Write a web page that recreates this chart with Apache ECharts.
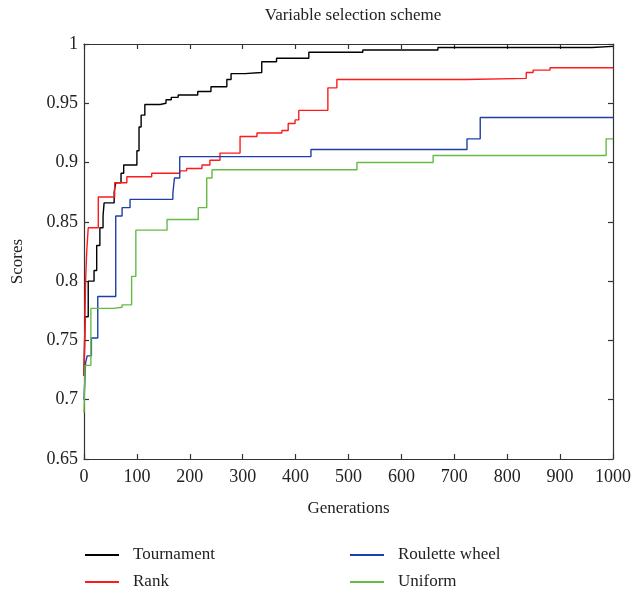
<!DOCTYPE html>
<html>
<head>
<meta charset="utf-8">
<script src="https://cdn.jsdelivr.net/npm/echarts@6/dist/echarts.min.js"></script>
<style>html,body{margin:0;padding:0;background:#fff;}#c{width:635px;height:596px;}</style>
</head>
<body>
<div id="c"></div>
<script>
var xTicks = [0, 100, 200, 300, 400, 500, 600, 700, 800, 900, 1000];
var yTicks = [0.65, 0.7, 0.75, 0.8, 0.85, 0.9, 0.95, 1];
var seriesNames = ['Tournament', 'Rank', 'Roulette wheel', 'Uniform'];

// [generation, score] step points (value holds until next point)
var tournament = [[0,0.72],[2,0.77],[8,0.80],[19,0.809],[24,0.83],[30,0.845],[36,0.855],[38,0.866],[57,0.875],[60,0.883],[70,0.891],[75,0.898],[100,0.91],[104,0.93],[108,0.94],[115,0.949],[144,0.950],[155,0.953],[165,0.955],[178,0.957],[215,0.960],[240,0.964],[270,0.970],[278,0.975],[304,0.976],[336,0.985],[364,0.988],[425,0.993],[527,0.995],[669,0.997],[960,0.998],[1000,0.998]];
var rank = [[0,0.72],[3,0.80],[5,0.824],[8,0.845],[27,0.871],[58,0.883],[81,0.888],[128,0.891],[181,0.893],[194,0.895],[223,0.898],[238,0.902],[257,0.908],[295,0.922],[327,0.925],[374,0.927],[386,0.933],[399,0.936],[406,0.944],[461,0.963],[478,0.970],[722,0.971],[836,0.976],[849,0.978],[881,0.980],[1000,0.980]];
var roulette = [[0,0.70],[3,0.731],[6,0.737],[14,0.752],[26,0.787],[60,0.855],[72,0.862],[87,0.869],[168,0.874],[171,0.887],[181,0.905],[429,0.911],[724,0.920],[749,0.938],[1000,0.938]];
var uniform = [[0,0.689],[2,0.729],[13,0.777],[56,0.778],[72,0.780],[90,0.804],[98,0.843],[157,0.852],[216,0.862],[232,0.887],[242,0.894],[516,0.900],[660,0.906],[987,0.920],[1000,0.920]];

var colors = ['#000000', '#ff1a1a', '#1f3fa8', '#66bb44'];
var font = '"Liberation Serif", "DejaVu Serif", serif';
var txt = '#222';

var chart = echarts.init(document.getElementById('c'), null, {renderer: 'canvas'});
function fmt(v) { return String(+v.toFixed(2)); }
function mk(name, data, color) {
  return {
    name: name, type: 'line', step: 'end', data: data, symbol: 'none',
    lineStyle: {color: color, width: 1.4}, itemStyle: {color: color},
    animation: false, xAxisIndex: 0, yAxisIndex: 0
  };
}
var axisCommon = {
  axisLine: {show: true, onZero: false, lineStyle: {color: '#333', width: 1.2}},
  axisTick: {show: true, inside: true, length: 5, lineStyle: {color: '#333', width: 1.2}},
  splitLine: {show: false}
};
var legendCommon = {
  orient: 'vertical', top: 541, height: 60, icon: 'rect',
  itemWidth: 34, itemHeight: 2, itemGap: 9,
  textStyle: {fontFamily: font, fontSize: 17, lineHeight: 18, color: txt, padding: [0, 0, 0, 9]}
};
chart.setOption({
  backgroundColor: '#fff',
  animation: false,
  title: {
    text: 'Variable selection scheme', left: 348, top: 2, textAlign: 'center',
    textStyle: {fontFamily: font, fontWeight: 'normal', fontSize: 17, color: txt}
  },
  grid: {left: 84, right: 22, top: 44, bottom: 137},
  xAxis: [
    Object.assign({
      type: 'value', min: 0, max: 1000, interval: 100, position: 'bottom',
      name: 'Generations', nameLocation: 'middle', nameGap: 41,
      nameTextStyle: {fontFamily: font, fontSize: 17, color: txt},
      axisLabel: {fontFamily: font, fontSize: 18, color: txt, margin: 9,
        formatter: function (v) { return String(v); }}
    }, axisCommon),
    Object.assign({
      type: 'value', min: 0, max: 1000, interval: 100, position: 'top',
      axisLabel: {show: false}
    }, axisCommon)
  ],
  yAxis: [
    Object.assign({
      type: 'value', min: 0.65, max: 1, interval: 0.05, position: 'left',
      name: 'Scores', nameLocation: 'middle', nameGap: 58, nameRotate: 90,
      nameTextStyle: {fontFamily: font, fontSize: 17, color: txt, padding: [0, 20, 0, 0]},
      axisLabel: {fontFamily: font, fontSize: 18, color: txt, margin: 6, formatter: fmt}
    }, axisCommon),
    Object.assign({
      type: 'value', min: 0.65, max: 1, interval: 0.05, position: 'right',
      axisLabel: {show: false}
    }, axisCommon)
  ],
  legend: [
    Object.assign({data: [seriesNames[0], seriesNames[1]], left: 80}, legendCommon),
    Object.assign({data: [seriesNames[2], seriesNames[3]], left: 345}, legendCommon)
  ],
  series: [
    mk(seriesNames[0], tournament, colors[0]),
    mk(seriesNames[1], rank, colors[1]),
    mk(seriesNames[2], roulette, colors[2]),
    mk(seriesNames[3], uniform, colors[3])
  ]
});
</script>
</body>
</html>
